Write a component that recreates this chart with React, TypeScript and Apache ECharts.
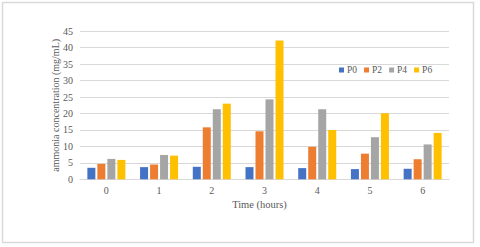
import React, { useEffect, useRef } from "react";
import * as echarts from "echarts";

const categories = ["0", "1", "2", "3", "4", "5", "6"];
const P0 = [3.5, 3.7, 3.8, 3.7, 3.4, 3.1, 3.2];
const P2 = [4.7, 4.5, 15.8, 14.6, 9.9, 7.8, 6.1];
const P4 = [6.2, 7.4, 21.3, 24.3, 21.3, 12.8, 10.6];
const P6 = [5.9, 7.2, 23.0, 42.2, 15.0, 20.1, 14.1];
const seriesNames = ["P0", "P2", "P4", "P6"];
const colors = ["#4472c4", "#ed7d31", "#a5a5a5", "#ffc000"];

export default function App() {
  const ref = useRef<HTMLDivElement>(null);
  useEffect(() => {
    const chart = echarts.init(ref.current!, undefined, { renderer: "svg" });
    const font = "'Liberation Serif', 'Times New Roman', serif";
    const data = [P0, P2, P4, P6];
    chart.setOption({
      animation: false,
      textStyle: { fontFamily: font },
      graphic: [
        {
          type: "rect",
          shape: { x: 2.5, y: 2.5, width: 471, height: 240 },
          style: { fill: "#fff", stroke: "#d9d9d9", lineWidth: 1.5 },
          silent: true,
          z: -10,
        },
      ],
      legend: {
        data: seriesNames,
        left: 334,
        top: 60,
        itemWidth: 5,
        itemHeight: 5,
        itemGap: 7,
        icon: "rect",
        textStyle: { fontFamily: font, fontSize: 9.5, color: "#595959", padding: [0, 0, 0, -2] },
      },
      grid: { left: 80, right: 31, top: 31.3, bottom: 67.7 },
      xAxis: {
        type: "category",
        data: categories,
        name: "Time (hours)",
        nameLocation: "middle",
        nameGap: 20,
        nameMoveOverlap: false,
        nameTextStyle: { fontFamily: font, fontSize: 10.5, color: "#595959", padding: [0, 10, 0, 0] },
        axisLine: { lineStyle: { color: "#d9d9d9" } },
        axisTick: { show: false },
        axisLabel: { fontFamily: font, fontSize: 10, color: "#595959", margin: 6 },
      },
      yAxis: {
        type: "value",
        min: 0,
        max: 45,
        interval: 5,
        name: "ammonia concentration (mg/mL)",
        nameLocation: "middle",
        nameGap: 20,
        nameMoveOverlap: false,
        nameTextStyle: { fontFamily: font, fontSize: 10, color: "#595959" },
        axisLine: { show: false },
        axisTick: { show: false },
        axisLabel: { fontFamily: font, fontSize: 10, color: "#595959", margin: 7 },
        splitLine: { lineStyle: { color: "#d9d9d9" } },
      },
      series: seriesNames.map((n, i) => ({
        name: n,
        type: "bar",
        data: data[i],
        barWidth: 8,
        barGap: "25%",
        itemStyle: { color: colors[i] },
      })),
    });
    return () => chart.dispose();
  }, []);
  return <div ref={ref} style={{ position: "absolute", left: 0, top: 0, width: 480, height: 247 }} />;
}
